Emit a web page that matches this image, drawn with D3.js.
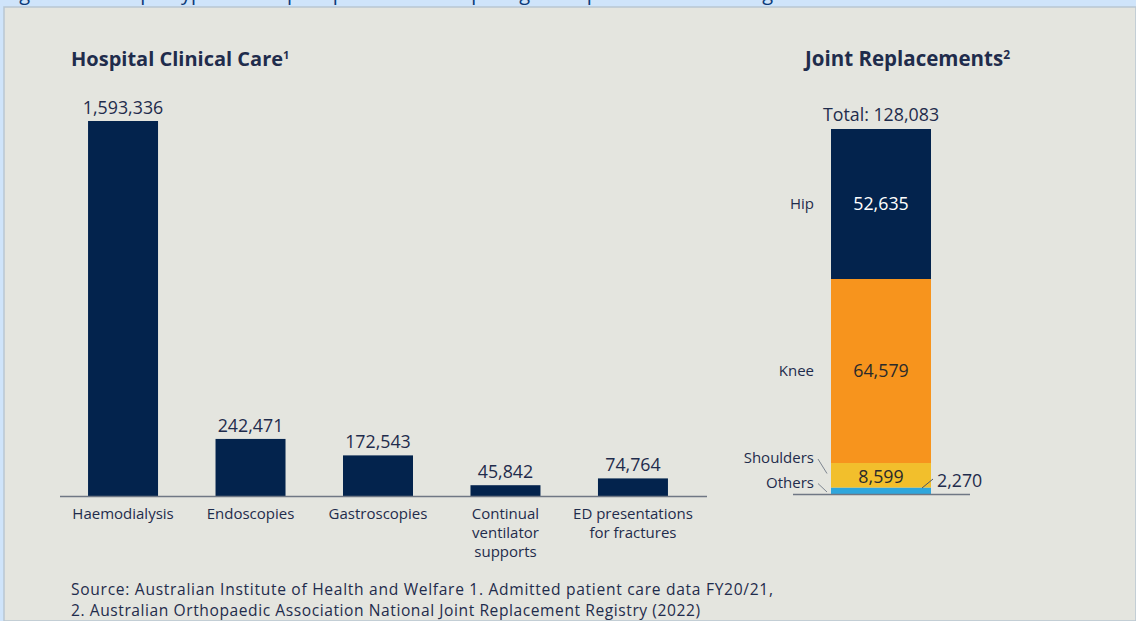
<!DOCTYPE html>
<html><head><meta charset="utf-8">
<script src="https://cdn.jsdelivr.net/npm/d3@7/dist/d3.min.js"></script>
<style>
html,body{margin:0;padding:0;background:#cfe4fa;}
svg{display:block;font-family:"Open Sans",sans-serif;}
</style></head>
<body><svg id="c" width="1136" height="621"></svg>
<script>
const categories = ["Haemodialysis","Endoscopies","Gastroscopies","Continual ventilator supports","ED presentations for fractures"];
const categoryLines = [["Haemodialysis"],["Endoscopies"],["Gastroscopies"],["Continual","ventilator","supports"],["ED presentations","for fractures"]];
const clinicalValues = [1593336, 242471, 172543, 45842, 74764];
const jointParts = ["Hip","Knee","Shoulders","Others"];
const jointValues = [52635, 64579, 8599, 2270];
const jointTotal = 128083;
const jointColors = ["#03234d","#f7941d","#f2bf2c","#2fa6dc"];

const fmt = d3.format(",");
const svg = d3.select("#c");
const ink = "#1f2c4c";

// page frame
svg.append("rect").attr("x",0).attr("y",0).attr("width",1136).attr("height",621).attr("fill","#cfe4fa");
const clip = svg.append("clipPath").attr("id","topclip");
clip.append("rect").attr("x",0).attr("y",0).attr("width",1136).attr("height",7);
svg.append("text").attr("clip-path","url(#topclip)").attr("x",4).attr("y",-0.5)
  .attr("font-size",20).attr("fill","#0b3a78")
  .text("Figure 1: Example types of hospital procedures requiring orthopaedic and clinical gear");
svg.append("rect").attr("x",4).attr("y",7).attr("width",1132).attr("height",614).attr("fill","#e4e5df")
  .attr("stroke","#b9c6d2").attr("stroke-width",1.5);

// Left chart
svg.append("text").attr("x",71).attr("y",66).attr("font-size",20).attr("font-weight",700).attr("fill",ink)
  .text("Hospital Clinical Care").append("tspan").attr("font-size",11).attr("dy",-7).text("1");

const x = d3.scaleBand().domain(categories).range([60,696]).paddingInner(0.451).paddingOuter(0.22);
const y = d3.scaleLinear().domain([0, d3.max(clinicalValues)]).range([496,121]);

const g = svg.append("g");
g.selectAll("rect.bar").data(categories).join("rect").attr("class","bar")
  .attr("x",d=>x(d)).attr("width",x.bandwidth())
  .attr("y",(d,i)=>y(clinicalValues[i])).attr("height",(d,i)=>y(0)-y(clinicalValues[i]))
  .attr("fill","#03234d");
g.selectAll("text.val").data(categories).join("text").attr("class","val")
  .attr("x",d=>x(d)+x.bandwidth()/2).attr("y",(d,i)=>y(clinicalValues[i])-7)
  .attr("text-anchor","middle").attr("font-size",17.8).attr("fill",ink)
  .text((d,i)=>fmt(clinicalValues[i]));
g.append("line").attr("x1",60).attr("x2",707).attr("y1",y(0)+0.5).attr("y2",y(0)+0.5)
  .attr("stroke","#6f7784").attr("stroke-width",1.5);
const lab = g.selectAll("text.cat").data(categories).join("text").attr("class","cat")
  .attr("x",d=>x(d)+x.bandwidth()/2).attr("y",519)
  .attr("text-anchor","middle").attr("font-size",15).attr("fill",ink);
lab.each(function(d,i){
  d3.select(this).selectAll("tspan").data(categoryLines[i]).join("tspan")
    .attr("x",x(d)+x.bandwidth()/2).attr("dy",(t,j)=>j===0?0:19).text(t=>t);
});

// Right chart
svg.append("text").attr("x",805).attr("y",66).attr("font-size",20.5).attr("font-weight",700).attr("fill",ink)
  .text("Joint Replacements").append("tspan").attr("font-size",12).attr("dy",-7).text("2");

const yj = d3.scaleLinear().domain([0, jointTotal]).range([494,129]);
const bx = 831, bw = 100;
// Hip on top -> stack in reverse so Others sits at the bottom
const revStack = d3.stack().keys(jointParts.slice().reverse())([Object.fromEntries(jointParts.map((k,i)=>[k,jointValues[i]]))]);
const segs = revStack.map(s=>({key:s.key, y0:s[0][0], y1:s[0][1], color:jointColors[jointParts.indexOf(s.key)]}));
const gj = svg.append("g");
gj.selectAll("rect").data(segs).join("rect")
  .attr("x",bx).attr("width",bw).attr("y",d=>yj(d.y1)).attr("height",d=>yj(d.y0)-yj(d.y1)).attr("fill",d=>d.color);
gj.append("line").attr("x1",793).attr("x2",970).attr("y1",yj(0)+0.5).attr("y2",yj(0)+0.5)
  .attr("stroke","#6f7784").attr("stroke-width",1.5);
gj.append("text").attr("x",bx+bw/2).attr("y",yj(jointTotal)-8).attr("text-anchor","middle")
  .attr("font-size",17.8).attr("fill",ink).text("Total: "+fmt(jointTotal));

const segBy = Object.fromEntries(segs.map(s=>[s.key,s]));
[["Hip","#ffffff"],["Knee","#2a2a2a"],["Shoulders","#2a2a2a"]].forEach(([k,c])=>{
  const s = segBy[k];
  const cy = k==="Shoulders" ? (yj(s.y0)+yj(s.y1))/2 + 1 : (yj(s.y0)+yj(s.y1))/2;
  gj.append("text").attr("x",bx+bw/2).attr("y",cy).attr("dy","0.36em").attr("text-anchor","middle")
    .attr("font-size",17.8).attr("fill",c).text(fmt(jointValues[jointParts.indexOf(k)]));
});
const sideY = {Hip:(yj(segBy.Hip.y0)+yj(segBy.Hip.y1))/2, Knee:(yj(segBy.Knee.y0)+yj(segBy.Knee.y1))/2,
  Shoulders: yj(segBy.Shoulders.y1)-5, Others: yj(segBy.Others.y1)-5};
jointParts.forEach(k=>{
  gj.append("text").attr("x",814).attr("y",sideY[k]).attr("dy","0.36em").attr("text-anchor","end")
    .attr("font-size",15).attr("fill",ink).text(k);
});
gj.append("line").attr("x1",818).attr("y1",sideY.Shoulders+1).attr("x2",827).attr("y2",yj(segBy.Shoulders.y0)-14)
  .attr("stroke","#7d8590").attr("stroke-width",1);
gj.append("line").attr("x1",818).attr("y1",sideY.Others+1).attr("x2",827).attr("y2",yj(0)-2)
  .attr("stroke","#7d8590").attr("stroke-width",1);
gj.append("line").attr("x1",922).attr("y1",yj(0)-6).attr("x2",933).attr("y2",yj(0)-15)
  .attr("stroke","#4a5566").attr("stroke-width",1);
gj.append("text").attr("x",937).attr("y",yj(0)-13).attr("dy","0.36em")
  .attr("font-size",17.8).attr("fill",ink).text(fmt(jointValues[3]));

// source
svg.append("text").attr("x",71).attr("y",594.5).attr("font-size",15.6).attr("fill",ink)
  .attr("textLength",702).attr("lengthAdjust","spacing")
  .text("Source: Australian Institute of Health and Welfare 1. Admitted patient care data FY20/21,");
svg.append("text").attr("x",71).attr("y",616).attr("font-size",15.6).attr("fill",ink)
  .attr("textLength",629).attr("lengthAdjust","spacing")
  .text("2. Australian Orthopaedic Association National Joint Replacement Registry (2022)");
</script></body></html>
